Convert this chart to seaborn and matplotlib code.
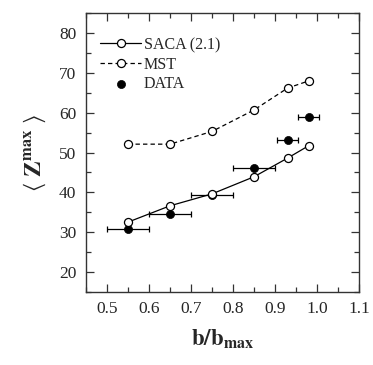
import numpy as np
import pandas as pd
import matplotlib
matplotlib.use("Agg")
import matplotlib.pyplot as plt
from matplotlib.ticker import MultipleLocator, FormatStrFormatter
import seaborn as sns

# Data
b_ratio = [0.55, 0.65, 0.75, 0.85, 0.93, 0.98]
saca_z = [32.5, 36.6, 39.6, 43.9, 48.6, 51.7]
mst_z = [52.1, 52.1, 55.3, 60.7, 66.2, 68.0]
data_z = [30.8, 34.5, 39.3, 46.2, 53.1, 59.0]
data_xerr = [0.05, 0.05, 0.05, 0.05, 0.025, 0.025]

sns.set_style("ticks")
plt.rcParams['font.family'] = ['Liberation Serif', 'DejaVu Serif']
plt.rcParams['mathtext.fontset'] = 'stix'

fig = plt.figure(figsize=(3.73, 3.65), dpi=100)
ax = fig.add_axes([0.2306, 0.2008, 0.7319, 0.7627])

df = pd.DataFrame({"b": b_ratio, "saca": saca_z, "mst": mst_z, "data": data_z})

ax.errorbar(b_ratio, data_z, xerr=data_xerr, fmt="none", ecolor="black",
            elinewidth=0.9, capsize=2.2, capthick=0.9, zorder=2)
sns.scatterplot(data=df, x="b", y="data", ax=ax, color="black", s=34,
                edgecolor="black", linewidth=0.5, label="DATA", zorder=3)
sns.lineplot(data=df, x="b", y="saca", ax=ax, color="black", lw=0.9,
             marker="o", markersize=5.8, markerfacecolor="white",
             markeredgecolor="black", markeredgewidth=0.9, label="SACA (2.1)",
             zorder=4)
sns.lineplot(data=df, x="b", y="mst", ax=ax, color="black", lw=0.9,
             linestyle=(0, (3.5, 2.5)), marker="o", markersize=5.8,
             markerfacecolor="white", markeredgecolor="black",
             markeredgewidth=0.9, label="MST", zorder=4)

ax.set_xlim(0.45, 1.1)
ax.set_ylim(15, 85)
ax.xaxis.set_minor_locator(MultipleLocator(0.05))
ax.yaxis.set_minor_locator(MultipleLocator(5))
ax.set_xticks([0.5, 0.6, 0.7, 0.8, 0.9, 1.0, 1.1])
ax.set_yticks([20, 30, 40, 50, 60, 70, 80])
ax.xaxis.set_major_formatter(FormatStrFormatter("%.1f"))

ax.tick_params(which="both", direction="in", top=True, right=True,
               labelsize=12.5, width=0.9, color="#333333")
ax.tick_params(which="major", length=5.5, pad=7)
ax.tick_params(which="minor", length=3.5)
for s in ax.spines.values():
    s.set_linewidth(1.0)
    s.set_color("#333333")

ax.set_xlabel(r"$\mathbf{b/b}_{\mathbf{max}}$", fontsize=16.5, labelpad=7)
ax.set_ylabel(r"$\langle\ \mathbf{Z}^{\mathbf{max}}\ \rangle$", fontsize=17, labelpad=8)

handles, labels = ax.get_legend_handles_labels()
order = [labels.index(l) for l in ["SACA (2.1)", "MST", "DATA"]]
ax.legend([handles[i] for i in order], [labels[i] for i in order],
          loc="upper left", frameon=False, fontsize=11.5,
          handlelength=2.6, handletextpad=0.15, labelspacing=0.22,
          borderaxespad=0.3, bbox_to_anchor=(0.01, 0.955))

fig.savefig("out.png", dpi=100)
